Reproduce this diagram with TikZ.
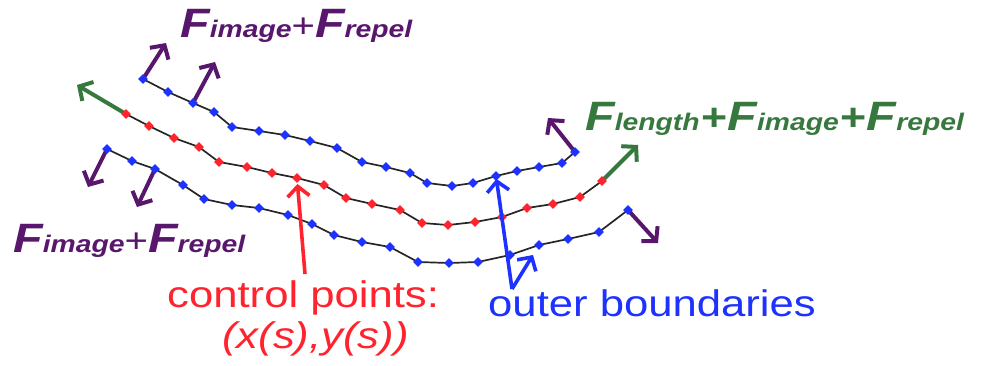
\documentclass[tikz,border=0pt]{standalone}
\usepackage{fontspec}
\setmainfont{Liberation Sans}
\newfontfamily\labfont[FakeStretch=1.18]{Liberation Sans}
\usetikzlibrary{shapes.geometric,arrows.meta}
\definecolor{fpurple}{RGB}{88,22,108}
\definecolor{fgreen}{RGB}{55,120,62}
\definecolor{cred}{RGB}{255,35,45}
\definecolor{cblue}{RGB}{30,50,255}
\newcommand\BigF{{\fontsize{41}{41}\selectfont\bfseries\itshape F}}
\newcommand\SubT[1]{{\fontsize{24}{24}\selectfont\bfseries\itshape #1}}
\newcommand\ThinPlus{{\fontsize{34}{34}\selectfont +}}
\newcommand\BoldPlus{{\fontsize{38}{38}\selectfont\bfseries +}}
\tikzset{
  curve/.style={draw=black!85, line width=1.7pt, line join=round},
  bdot/.style={diamond, fill=cblue, inner sep=0pt, minimum size=10pt},
  rdot/.style={diamond, fill=cred, inner sep=0pt, minimum size=10pt},
  farrow/.style={line width=4pt, -{Straight Barb[length=10pt,width=22pt]}},
  parr/.style={farrow, draw=fpurple},
  garr/.style={farrow, draw=fgreen},
  rarr/.style={farrow, draw=cred, line width=3.6pt},
  blarr/.style={farrow, draw=cblue, line width=3.6pt},
  lbl/.style={inner sep=0pt, anchor=base west, font=\labfont},
}
\begin{document}
\begin{tikzpicture}[x=1pt,y=-1pt]
\useasboundingbox (0,0) rectangle (982,365);
% control point coordinates
\foreach \px/\py [count=\i] in {143/79,168/92,193/103,214/112,232/127,259/131,285/135,310/141,337/148,362/162,386/167,410/173,427/183,452/186,473/183,496/176,517/171,539/167,562/163,575/152}
  \coordinate (t\i) at (\px,\py);
\foreach \px/\py [count=\i] in {126/114,149/126,174/138,199/147,219/162,247/167,272/173,297/178,324/185,346/198,372/204,400/210,422/223,448/225,475/222,502/217,527/208,553/204,580/197,602/181}
  \coordinate (r\i) at (\px,\py);
\foreach \px/\py [count=\i] in {107/149,132/161,155/169,183/185,204/199,232/205,259/208,288/215,312/224,334/235,362/242,390/247,418/262,449/263,478/262,510/255,539/245,568/239,599/232,628/210}
  \coordinate (b\i) at (\px,\py);
% curves
\draw[curve] (t1) \foreach \i in {2,...,20}{ -- (t\i)};
\draw[curve] (r1) \foreach \i in {2,...,20}{ -- (r\i)};
\draw[curve] (b1) \foreach \i in {2,...,20}{ -- (b\i)};
% force arrows
\coordinate (pa1) at (166,43);
\coordinate (pa2) at (215,62);
\coordinate (pa3) at (88,187);
\coordinate (pa4) at (137,207);
\coordinate (pa5) at (548,118);
\coordinate (pa6) at (658,243);
\coordinate (ga1) at (77,85);
\coordinate (ga2) at (638,145);
\draw[parr] (t1) -- (pa1);
\draw[parr] (t3) -- (pa2);
\draw[parr] (b1) -- (pa3);
\draw[parr] (b3) -- (pa4);
\draw[parr] (t20) -- (pa5);
\draw[parr] (b20) -- (pa6);
\draw[garr] (r1) -- (ga1);
\draw[garr] (r20) -- (ga2);
% dots
\foreach \i in {1,...,20}{
  \node[bdot] (td\i) at (t\i) {};
  \node[rdot] (rd\i) at (r\i) {};
  \node[bdot] (bd\i) at (b\i) {};
}
% labels
\node[lbl, text=fpurple] (ltop) at (180,37) {\BigF\SubT{image}\ThinPlus\BigF\SubT{repel}};
\node[lbl, text=fpurple] (lbot) at (13,252) {\BigF\SubT{image}\ThinPlus\BigF\SubT{repel}};
\node[lbl, text=fgreen] (lgreen) at (585,130) {\BigF\SubT{length}\,\BoldPlus\BigF\SubT{image}\,\BoldPlus\BigF\SubT{repel}};
\node[lbl, text=cred, font=\labfont\fontsize{37}{37}\selectfont] (lcp) at (167,307) {control points:};
\node[lbl, text=cred, font=\labfont\fontsize{37}{37}\selectfont\itshape] (lxy) at (222,348) {(x(s),y(s))};
\node[lbl, text=cblue, font=\labfont\fontsize{37}{37}\selectfont] (lob) at (488,316) {outer boundaries};
% pointer arrows
\coordinate (rs) at (305,274);
\coordinate (bs) at (512,289);
\coordinate (btip) at (533,255);
\draw[rarr, shorten >=6pt] (rs) -- (r8);
\draw[blarr, shorten >=3pt] (bs) -- (t16);
\draw[blarr] (bs) -- (btip);
\end{tikzpicture}
\end{document}
